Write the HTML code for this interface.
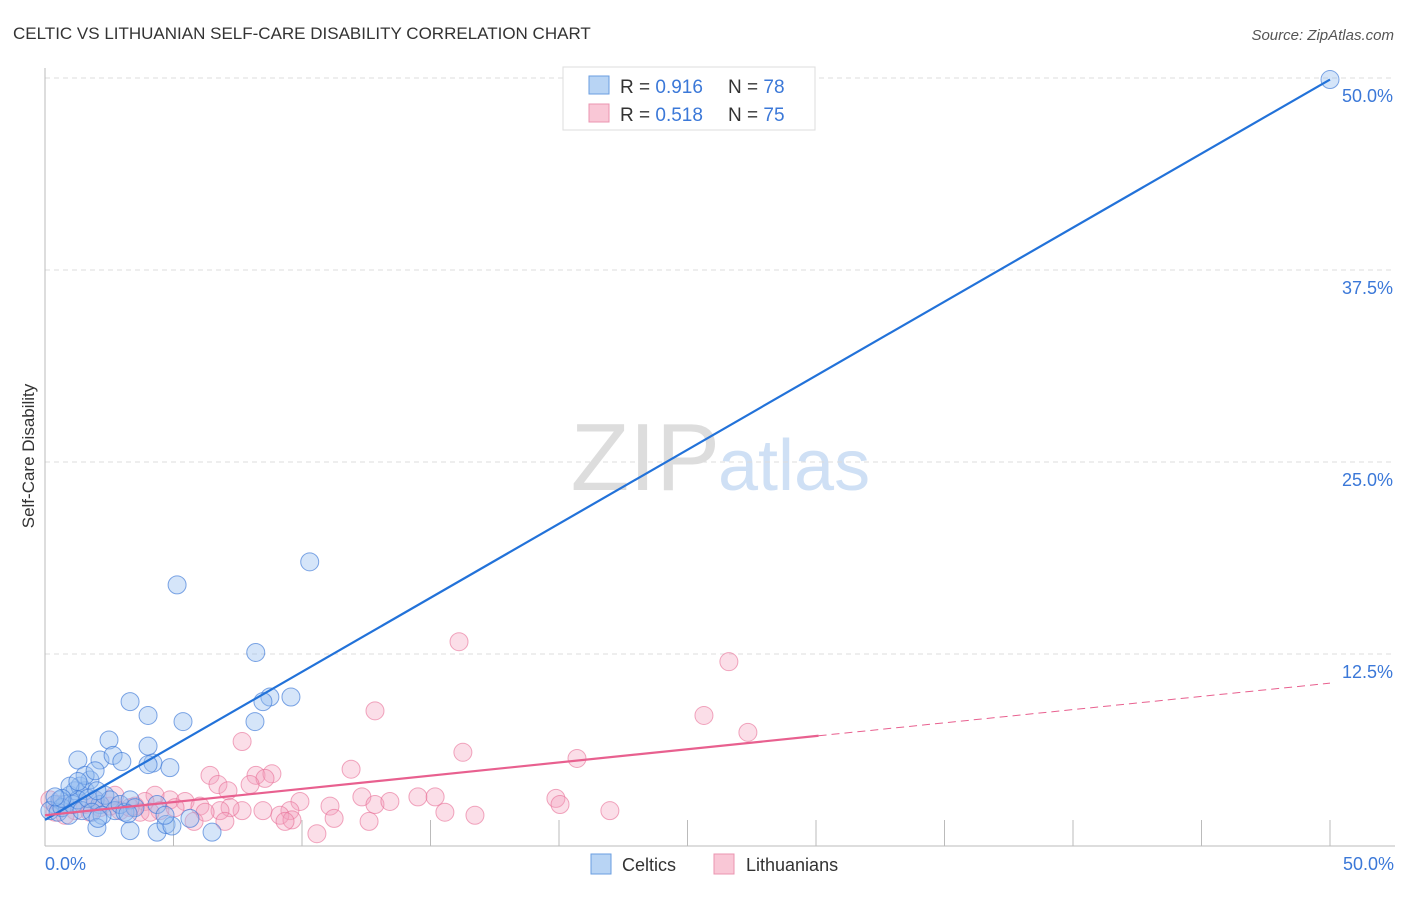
<!DOCTYPE html>
<html><head><meta charset="utf-8"><style>
body{margin:0;background:#fff;font-family:"Liberation Sans",sans-serif;}
svg text{font-family:"Liberation Sans",sans-serif;}
</style></head><body>
<svg width="1406" height="892">
<text x="13" y="39" font-size="17" fill="#333">CELTIC VS LITHUANIAN SELF-CARE DISABILITY CORRELATION CHART</text>
<text x="1394" y="40" font-size="15" fill="#555" font-style="italic" text-anchor="end">Source: ZipAtlas.com</text>
<text x="720" y="490" font-size="96" fill="#ddd" font-family="Liberation Serif" text-anchor="end">ZIP</text>
<text x="718" y="490" font-size="72" fill="#cfe0f5">atlas</text>
<g id="grid"></g>
<g id="axes"></g>
<g id="pts"></g>
<g id="lines"></g>
<text x="34" y="456" font-size="17" fill="#333" transform="rotate(-90 34 456)" text-anchor="middle">Self-Care Disability</text>
<text x="45" y="870" font-size="18" fill="#3b78d8">0.0%</text>
<text x="1394" y="870" font-size="18" fill="#3b78d8" text-anchor="end">50.0%</text>
<g>
<rect x="563" y="67" width="252" height="63" fill="#fff" stroke="#ddd"/>
<rect x="589" y="76" width="20" height="18" fill="#b8d4f4" stroke="#6a9ee0"/>
<rect x="589" y="104" width="20" height="18" fill="#f9c7d6" stroke="#eb94b0"/>
<text x="620" y="93" font-size="19" fill="#333">R = <tspan fill="#3b78d8">0.916</tspan></text>
<text x="728" y="93" font-size="19" fill="#333">N = <tspan fill="#3b78d8">78</tspan></text>
<text x="620" y="121" font-size="19" fill="#333">R = <tspan fill="#3b78d8">0.518</tspan></text>
<text x="728" y="121" font-size="19" fill="#333">N = <tspan fill="#3b78d8">75</tspan></text>
</g>
<g>
<rect x="591" y="854" width="20" height="20" fill="#b8d4f4" stroke="#6a9ee0"/>
<text x="622" y="871" font-size="18" fill="#333">Celtics</text>
<rect x="714" y="854" width="20" height="20" fill="#f9c7d6" stroke="#eb94b0"/>
<text x="746" y="871" font-size="18" fill="#333">Lithuanians</text>
</g>
</svg>
<script>
const yTicks=[12.5,25,37.5,50];
const yTickLabels=["12.5%","25.0%","37.5%","50.0%"];
const xTicks=[5,10,15,20,25,30,35,40,45,50];
const celticX=[50,10.3,5.14,8.2,8.75,8.48,9.57,8.17,5.37,3.31,4.01,2.14,1.28,2.49,2.65,4.01,2.99,4.2,4.86,4.01,0.39,0.58,0.78,0.97,1.17,1.36,1.56,1.75,1.95,2.14,2.33,2.53,2.72,2.92,3.11,3.31,3.5,0.19,0.51,0.66,0.93,1.09,1.28,1.44,1.67,1.83,2.02,2.22,0.97,1.56,1.28,1.95,0.66,0.39,2.02,3.31,4.36,4.71,4.94,6.5,4.36,5.64,4.67,3.23,2.06];
const celticY=[49.9,18.5,17.0,12.6,9.7,9.4,9.7,8.1,8.1,9.4,8.5,5.6,5.6,6.9,5.9,6.5,5.5,5.4,5.1,5.3,2.7,3.0,2.7,3.3,3.6,3.9,3.6,4.3,3.0,2.7,3.3,3.0,2.3,2.7,2.2,3.0,2.5,2.3,2.2,2.5,2.0,2.7,3.0,2.3,3.1,2.2,3.6,2.0,3.9,4.6,4.2,4.9,3.1,3.2,1.2,1.0,0.9,1.4,1.3,0.9,2.7,1.8,2.0,2.1,1.8];
const lithX=[16.11,26.61,12.84,25.64,27.35,7.67,16.26,20.7,11.91,6.42,6.73,8.21,8.83,8.56,7.98,7.12,4.86,4.28,3.89,5.45,6.03,3.5,2.92,9.92,11.09,9.53,9.14,12.33,12.84,13.42,14.51,15.18,19.88,20.04,21.98,15.56,16.73,8.48,7.67,7.2,6.81,9.61,9.34,11.25,12.61,10.58,5.8,7.0,4.47,3.7,2.14,1.56,1.17,0.58,0.19,0.39,0.78,1.75,2.53,3.31,4.09,5.06,6.23,2.72,1.95];
const lithY=[13.3,12.0,8.8,8.5,7.4,6.8,6.1,5.7,5.0,4.6,4.0,4.6,4.7,4.4,4.0,3.6,3.0,3.3,2.9,2.9,2.6,2.6,2.3,2.9,2.6,2.3,2.0,3.2,2.7,2.9,3.2,3.2,3.1,2.7,2.3,2.2,2.0,2.3,2.3,2.5,2.3,1.7,1.6,1.8,1.6,0.8,1.6,1.6,2.3,2.2,2.5,2.7,2.3,2.7,3.0,2.2,2.0,2.2,2.6,2.5,2.2,2.5,2.2,3.3,3.0];
const celticFit=[1.7,49.9];
const lithFit=[2.0,10.6];
const lithSolidEnd=30.1;
const X=v=>45+v*1285/50, Y=v=>846-v*15.36;
const NS='http://www.w3.org/2000/svg';
function mk(t,a,p){const e=document.createElementNS(NS,t);for(const k in a)e.setAttribute(k,a[k]);document.getElementById(p).appendChild(e);return e;}
yTicks.forEach((t,i)=>{
 const g=mk('line',{x1:45,x2:1395,y1:Y(t),y2:Y(t),stroke:'#ddd','stroke-dasharray':'5,4'},'grid');
 
 
 const l=mk('text',{x:1393,y:Y(t)+24,'font-size':18,fill:'#3b78d8','text-anchor':'end'},'grid');
 l.textContent=yTickLabels[i];
 
 
});
const ya=mk('line',{x1:45,x2:45,y1:68,y2:846,stroke:'#bbb'},'axes');


const xa=mk('line',{x1:45,x2:1395,y1:846,y2:846,stroke:'#bbb'},'axes');


xTicks.forEach(t=>{
 const k=mk('line',{x1:X(t),x2:X(t),y1:820,y2:846,stroke:'#bbb'},'axes');
 
 
});
lithX.forEach((x,i)=>{
 const c=mk('circle',{cx:X(x),cy:Y(lithY[i]),r:9,fill:'rgba(244,160,188,0.35)',stroke:'rgba(232,110,150,0.6)'},'pts');
 
 
});
celticX.forEach((x,i)=>{
 const c=mk('circle',{cx:X(x),cy:Y(celticY[i]),r:9,fill:'rgba(150,190,240,0.4)',stroke:'rgba(60,120,215,0.65)'},'pts');
 
 
});
const bl=mk('line',{x1:X(0),y1:Y(celticFit[0]),x2:X(50),y2:Y(celticFit[1]),stroke:'#2272d9','stroke-width':2.2},'lines');


const ly=x=>lithFit[0]+(lithFit[1]-lithFit[0])*x/50;
const pl=mk('line',{x1:X(0),y1:Y(ly(0)),x2:X(lithSolidEnd),y2:Y(ly(lithSolidEnd)),stroke:'#e8608f','stroke-width':2.2},'lines');


const pd=mk('line',{x1:X(lithSolidEnd),y1:Y(ly(lithSolidEnd)),x2:X(50),y2:Y(ly(50)),stroke:'#e8608f','stroke-width':1,'stroke-dasharray':'8,5'},'lines');


</script>
</body></html>
